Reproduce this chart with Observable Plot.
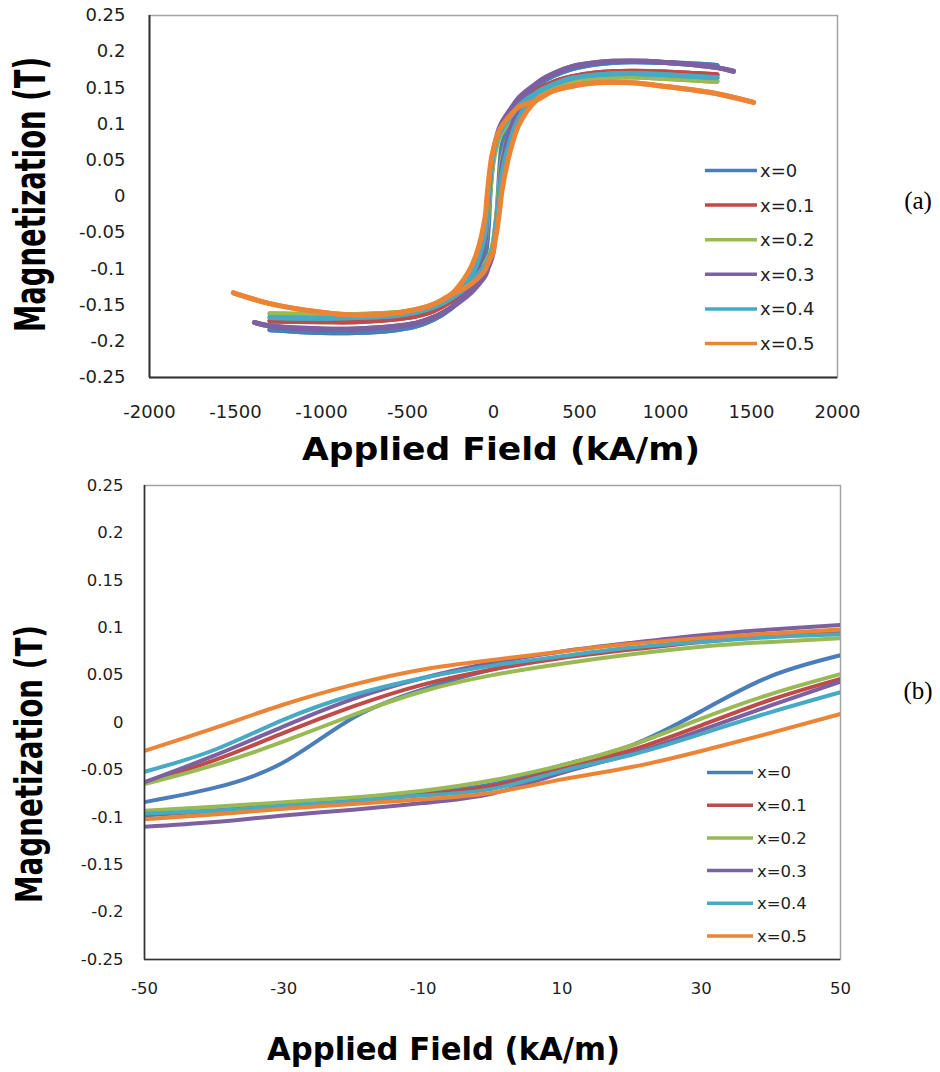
<!DOCTYPE html>
<html>
<head>
<meta charset="utf-8">
<script src="https://cdn.jsdelivr.net/npm/d3@7"></script>
<script src="https://cdn.jsdelivr.net/npm/@observablehq/plot@0.6"></script>
<style>
  html, body { margin: 0; padding: 0; background: #fff; }
  #wrap { position: relative; width: 940px; height: 1072px; overflow: hidden; background: #fff; }
  #wrap svg { display: block; }
</style>
</head>
<body>
<div id="wrap"></div>
<script>
// ---------- series ----------
const seriesNames  = ["x=0", "x=0.1", "x=0.2", "x=0.3", "x=0.4", "x=0.5"];
const seriesColors = ["#4a7ebb", "#be4b48", "#98b954", "#7d60a0", "#46aac5", "#ec8435"];

// ---------- ticks ----------
const yDomain  = [-0.25, 0.25];
const yTicks   = [-0.25, -0.2, -0.15, -0.1, -0.05, 0, 0.05, 0.1, 0.15, 0.2, 0.25];
const xDomainA = [-2000, 2000];
const xTicksA  = [-2000, -1500, -1000, -500, 0, 500, 1000, 1500, 2000];
const xDomainB = [-50, 50];
const xTicksB  = [-50, -30, -10, 10, 30, 50];

// ---------- panel (b): low-field loop branches (kA/m, T) ----------
const fieldB = [-50, -40, -30, -20, -10, 0, 10, 20, 30, 40, 50];
// descending-field branch (upper)
const upperB = [
  [-0.084, -0.069, -0.042, 0.005, 0.035, 0.056, 0.069, 0.078, 0.086, 0.091, 0.095],
  [-0.063, -0.040, -0.011, 0.017, 0.040, 0.056, 0.068, 0.077, 0.085, 0.091, 0.095],
  [-0.065, -0.045, -0.020, 0.008, 0.033, 0.050, 0.062, 0.072, 0.080, 0.085, 0.089],
  [-0.063, -0.035, -0.004, 0.025, 0.047, 0.063, 0.075, 0.084, 0.092, 0.098, 0.103],
  [-0.052, -0.029, 0.003, 0.029, 0.047, 0.060, 0.070, 0.079, 0.085, 0.090, 0.093],
  [-0.030, -0.006, 0.019, 0.040, 0.056, 0.066, 0.075, 0.083, 0.089, 0.094, 0.098]
];
// ascending-field branch (lower)
const lowerB = [
  [-0.098, -0.093, -0.087, -0.081, -0.074, -0.065, -0.045, -0.024, 0.012, 0.049, 0.071],
  [-0.097, -0.093, -0.088, -0.083, -0.076, -0.067, -0.049, -0.029, -0.003, 0.024, 0.046],
  [-0.093, -0.089, -0.084, -0.079, -0.072, -0.061, -0.045, -0.024, 0.004, 0.030, 0.051],
  [-0.110, -0.105, -0.098, -0.092, -0.085, -0.075, -0.053, -0.033, -0.008, 0.018, 0.043],
  [-0.096, -0.093, -0.088, -0.083, -0.077, -0.070, -0.051, -0.034, -0.012, 0.011, 0.032],
  [-0.102, -0.097, -0.091, -0.086, -0.081, -0.074, -0.060, -0.047, -0.030, -0.011, 0.009]
];

// ---------- panel (a): full loops ----------
// branch-specific points just outside the (b) window
const nearUpFieldA  = [150, 100, -100, -150];
const nearLowFieldA = [-150, -100, 100, 150];
const upperNearA = [
  [0.133, 0.115, -0.112, -0.132],
  [0.129, 0.113, -0.102, -0.123],
  [0.124, 0.107, -0.100, -0.120],
  [0.137, 0.121, -0.105, -0.128],
  [0.126, 0.111, -0.095, -0.118],
  [0.124, 0.113, -0.080, -0.106]
];
const lowerNearA = [
  [-0.134, -0.118, 0.103, 0.125],
  [-0.127, -0.114, 0.092, 0.118],
  [-0.122, -0.108, 0.092, 0.115],
  [-0.137, -0.125, 0.094, 0.122],
  [-0.123, -0.110, 0.080, 0.110],
  [-0.124, -0.115, 0.065, 0.100]
];
// outer (merged) parts
const outerPosFieldA = [250, 350, 450, 600, 800, 1000, 1300];
const outerNegFieldA = [-250, -350, -450, -600, -800, -1000, -1300];
const outerPosA = [
  [0.153, 0.167, 0.176, 0.183, 0.186, 0.185, 0.181],
  [0.146, 0.158, 0.165, 0.171, 0.173, 0.172, 0.168],
  [0.140, 0.151, 0.158, 0.163, 0.165, 0.163, 0.159],
  [0.156, 0.170, 0.179, 0.185, 0.187, 0.185, 0.178],
  [0.143, 0.155, 0.163, 0.168, 0.170, 0.168, 0.164],
  [0.133, 0.146, 0.152, 0.157, 0.157, 0.152, 0.142]
];
const outerNegA = [
  [-0.155, -0.170, -0.179, -0.185, -0.188, -0.188, -0.184],
  [-0.145, -0.158, -0.165, -0.170, -0.173, -0.173, -0.172],
  [-0.139, -0.151, -0.157, -0.161, -0.163, -0.163, -0.162],
  [-0.154, -0.167, -0.175, -0.180, -0.183, -0.183, -0.179],
  [-0.141, -0.153, -0.160, -0.165, -0.167, -0.168, -0.167],
  [-0.136, -0.149, -0.156, -0.162, -0.164, -0.160, -0.148]
];
// extra end points for the series measured to higher fields
const tipPosField = [null, null, null, 1395, null, 1512];
const tipPosM     = [null, null, null, 0.173, null, 0.130];
const tipNegField = [null, null, null, -1390, null, -1512];
const tipNegM     = [null, null, null, -0.174, null, -0.133];

// ---------- build tables ----------
const rowsA = [];
const rowsB = [];
seriesNames.forEach((name, i) => {
  // descending branch
  const d = [];
  if (tipPosField[i] != null) d.push([tipPosField[i], tipPosM[i]]);
  for (let j = outerPosFieldA.length - 1; j >= 0; j--) d.push([outerPosFieldA[j], outerPosA[i][j]]);
  d.push([nearUpFieldA[0], upperNearA[i][0]], [nearUpFieldA[1], upperNearA[i][1]]);
  for (let j = fieldB.length - 1; j >= 0; j--) d.push([fieldB[j], upperB[i][j]]);
  d.push([nearUpFieldA[2], upperNearA[i][2]], [nearUpFieldA[3], upperNearA[i][3]]);
  for (let j = 0; j < outerNegFieldA.length; j++) d.push([outerNegFieldA[j], outerNegA[i][j]]);
  if (tipNegField[i] != null) d.push([tipNegField[i], tipNegM[i]]);
  d.forEach(([H, M]) => rowsA.push({series: name, key: name + "-down", H, M}));
  // ascending branch
  const u = [];
  if (tipNegField[i] != null) u.push([tipNegField[i], tipNegM[i]]);
  for (let j = outerNegFieldA.length - 1; j >= 0; j--) u.push([outerNegFieldA[j], outerNegA[i][j]]);
  u.push([nearLowFieldA[0], lowerNearA[i][0]], [nearLowFieldA[1], lowerNearA[i][1]]);
  for (let j = 0; j < fieldB.length; j++) u.push([fieldB[j], lowerB[i][j]]);
  u.push([nearLowFieldA[2], lowerNearA[i][2]], [nearLowFieldA[3], lowerNearA[i][3]]);
  for (let j = 0; j < outerPosFieldA.length; j++) u.push([outerPosFieldA[j], outerPosA[i][j]]);
  if (tipPosField[i] != null) u.push([tipPosField[i], tipPosM[i]]);
  u.forEach(([H, M]) => rowsA.push({series: name, key: name + "-up", H, M}));

  fieldB.forEach((H, j) => rowsB.push({series: name, key: name + "-down", H, M: upperB[i][j]}));
  fieldB.forEach((H, j) => rowsB.push({series: name, key: name + "-up", H, M: lowerB[i][j]}));
});

const fmt = d => String(+(+d).toFixed(2));
const wrap = document.getElementById("wrap");

function makePanel(cfg) {
  const svgEl = Plot.plot({
    width: 940, height: cfg.height,
    marginLeft: cfg.ml, marginRight: cfg.mr, marginTop: cfg.mt, marginBottom: cfg.mb,
    style: {fontFamily: "DejaVu Sans", fontSize: cfg.tickFont + "px", color: "#1e1e1e", background: "#fff"},
    x: {domain: cfg.xDomain, label: null},
    y: {domain: yDomain, label: null},
    color: {domain: seriesNames, range: seriesColors},
    marks: [
      Plot.frame({stroke: "#a3a3a3", strokeWidth: 1.5}),
      Plot.line(cfg.rows, {x: "H", y: "M", z: "key", stroke: "series", strokeWidth: cfg.lw, curve: cfg.curve, clip: true}),
      Plot.ruleX([cfg.xDomain[0]], {stroke: "#333", strokeWidth: cfg.axisW}),
      Plot.ruleY([yDomain[0]], {stroke: "#333", strokeWidth: cfg.axisW}),
      Plot.axisX({ticks: cfg.xTicks, tickSize: 0, tickPadding: cfg.xPad, tickFormat: fmt, label: null, fontSize: cfg.tickFont}),
      Plot.axisY({ticks: yTicks, tickSize: 0, tickPadding: cfg.yPad, tickFormat: fmt, label: null, fontSize: cfg.tickFont})
    ]
  });
  const svg = d3.select(svgEl);
  wrap.appendChild(svgEl);
  // x title
  svg.append("text")
    .attr("x", cfg.xt.cx).attr("y", cfg.xt.base)
    .attr("text-anchor", "middle")
    .attr("font-family", "DejaVu Sans").attr("font-weight", "bold")
    .attr("font-size", cfg.xt.size)
    .attr("fill", "#000")
    .attr("textLength", cfg.xt.len).attr("lengthAdjust", "spacingAndGlyphs")
    .text("Applied Field (kA/m)");
  // y title: sized so its length matches, then thickened with a scale
  const yt = svg.append("text")
    .attr("x", 0).attr("y", 0)
    .attr("text-anchor", "middle")
    .attr("font-family", "DejaVu Sans").attr("font-weight", "bold")
    .attr("font-size", cfg.yt.size)
    .attr("fill", "#000")
    .text("Magnetization (T)");
  const natLen = yt.node().getComputedTextLength() || cfg.yt.len;
  const sx = cfg.yt.len / natLen;
  const sy = cfg.yt.thick / (0.729 * cfg.yt.size);
  yt.attr("transform", `translate(${cfg.yt.base},${cfg.yt.cy}) rotate(-90) scale(${sx},${sy})`);
  // legend
  const lg = svg.append("g");
  seriesNames.forEach((name, i) => {
    const y = cfg.lg.y0 + i * cfg.lg.step;
    lg.append("line").attr("x1", cfg.lg.x1).attr("x2", cfg.lg.x2).attr("y1", y).attr("y2", y)
      .attr("stroke", seriesColors[i]).attr("stroke-width", 3.5);
    lg.append("text").attr("x", cfg.lg.tx).attr("y", y).attr("dy", "0.36em")
      .attr("text-anchor", "start")
      .attr("font-family", "DejaVu Sans").attr("font-size", cfg.lg.size).attr("fill", "#1e1e1e")
      .text(name);
  });
  // panel tag
  svg.append("text").attr("x", 918).attr("y", cfg.tag.y).attr("dy", "0.35em")
    .attr("text-anchor", "middle").attr("font-family", "Liberation Serif")
    .attr("font-size", 25).attr("fill", "#000").text(cfg.tag.text);
}

makePanel({
  height: 470, ml: 149, mr: 103, mt: 15, mb: 93,
  xDomain: xDomainA, xTicks: xTicksA, rows: rowsA, lw: 5, axisW: 2, curve: "catmull-rom",
  tickFont: 18, xPad: 28, yPad: 24,
  xt: {cx: 501, base: 460, size: 32, len: 398},
  yt: {base: 45, cy: 194.5, size: 27.5, len: 275, thick: 31},
  lg: {y0: 170.5, step: 34.6, x1: 705, x2: 757, tx: 760, size: 18},
  tag: {y: 200, text: "(a)"}
});

makePanel({
  height: 602, ml: 144, mr: 100, mt: 15, mb: 113,
  xDomain: xDomainB, xTicks: xTicksB, rows: rowsB, lw: 4, axisW: 1.6, curve: "natural",
  tickFont: 16.5, xPad: 23, yPad: 21,
  xt: {cx: 443.5, base: 590, size: 32, len: 353},
  yt: {base: 42, cy: 294, size: 27.7, len: 278, thick: 27},
  lg: {y0: 302.5, step: 32.7, x1: 707, x2: 753, tx: 757, size: 16.5},
  tag: {y: 220, text: "(b)"}
});
</script>
</body>
</html>
